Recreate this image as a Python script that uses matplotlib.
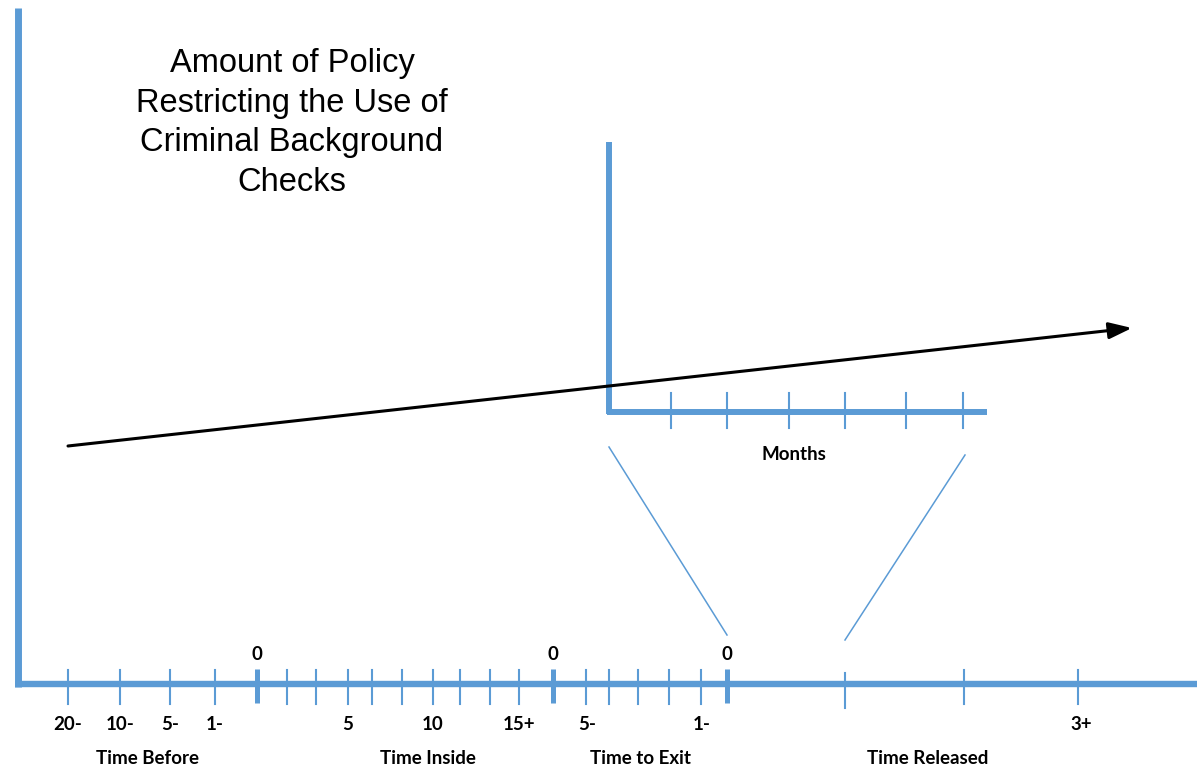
import matplotlib
matplotlib.use("Agg")
import matplotlib.pyplot as plt

BLUE = "#5b9bd5"

# timeline ticks along the bottom axis (pixel-like units, x grows right)
minor_ticks = [68, 120, 170, 215, 287, 316, 348, 372, 402, 433, 460, 490, 519,
               586, 609, 638, 669, 701, 964, 1078]
major_ticks = [257, 553, 727]
release_tick = 845

tick_label_x = [68, 120, 170, 215, 348, 433, 519, 587, 702, 1081]
tick_labels = ["20-", "10-", "5-", "1-", "5", "10", "15+", "5-", "1-", "3+"]

zero_x = [257, 553, 727]

phase_x = [147, 428, 640, 928]
phase_labels = ["Time Before", "Time Inside", "Time to Exit", "Time Released"]

# inset "Months" axis
month_ticks = [671, 727, 789, 845, 906, 963]

# trend arrow start / end
trend_x = [68, 1132]
trend_y = [446, 328]

title = "Amount of Policy\nRestricting the Use of\nCriminal Background\nChecks"

fig = plt.figure(figsize=(11.97, 7.73), dpi=100)
ax = fig.add_axes([0, 0, 1, 1])
ax.set_xlim(0, 1197)
ax.set_ylim(773, 0)
ax.axis("off")

# main axes
ax.plot([18, 18], [8, 687], color=BLUE, lw=5, solid_capstyle="butt")
ax.plot([15, 1197], [684, 684], color=BLUE, lw=4.6, solid_capstyle="butt")

for x in minor_ticks:
    ax.plot([x, x], [670, 704], color=BLUE, lw=1.5)
ax.plot([release_tick, release_tick], [673, 708], color=BLUE, lw=1.5)
for x in major_ticks:
    ax.plot([x, x], [669, 703], color=BLUE, lw=3.6, solid_capstyle="butt")

lab_font = dict(family="Lato", fontweight="bold", fontsize=13.5, color="black")
for x, t in zip(tick_label_x, tick_labels):
    ax.text(x, 725, t, ha="center", va="center", **lab_font)
for x in zero_x:
    ax.text(x, 655, "0", ha="center", va="center", **lab_font)
for x, t in zip(phase_x, phase_labels):
    ax.text(x, 759, t, ha="center", va="center", **lab_font)

# inset axes
ax.plot([609, 609], [142, 414], color=BLUE, lw=4.3, solid_capstyle="butt")
ax.plot([607, 987], [411.5, 411.5], color=BLUE, lw=4.3, solid_capstyle="butt")
for x in month_ticks:
    ax.plot([x, x], [393, 428], color=BLUE, lw=1.5)
ax.text(794, 455, "Months", ha="center", va="center", **lab_font)

# zoom lines
ax.plot([609, 727], [447, 635], color=BLUE, lw=1.1)
ax.plot([965, 845], [455, 640], color=BLUE, lw=1.1)

# trend arrow
ax.annotate("", xy=(trend_x[1], trend_y[1]), xytext=(trend_x[0], trend_y[0]),
            arrowprops=dict(arrowstyle="-|>,head_length=1.4,head_width=0.5",
                            color="black", lw=2.2, shrinkA=0, shrinkB=0))

ax.text(292, 123, title, ha="center", va="center", family="Liberation Sans",
        fontsize=23.5, linespacing=1.36, color="black")

fig.savefig("out.png", dpi=100)
